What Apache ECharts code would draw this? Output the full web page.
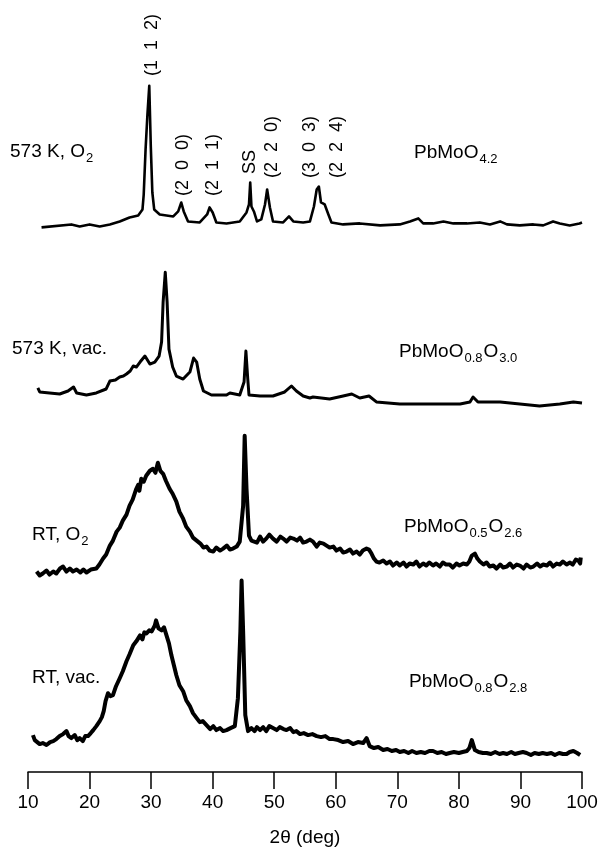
<!DOCTYPE html>
<html>
<head>
<meta charset="utf-8">
<script src="https://cdn.jsdelivr.net/npm/echarts@6/dist/echarts.min.js"></script>
<style>
  html, body { margin: 0; padding: 0; background: #fff; }
  #chart { width: 602px; height: 852px; }
</style>
</head>
<body>
<div id="chart"></div>
<script>
// XRD patterns, [2theta, intensity] (arbitrary units)
const o2_573K = [
  [12.2,4],[17.05,7],[18.4,5],[20.0,7],[21.65,5],[23.3,7],[24.9,10],[26.5,14],[27.9,16],[28.6,22],
  [28.8,37],[29.1,82],[29.4,117],[29.7,146],[29.95,85],[30.2,39],[30.5,22],[31.4,17],[32.5,16],[33.6,15],
  [34.4,20],[34.9,29],[35.3,20],[36.0,10],[37.9,9],[39.1,17],[39.5,24],[40.0,19],[40.6,9],[42.25,8],
  [44.4,10],[45.5,19],[45.9,27],[46.1,49],[46.3,25],[46.7,20],[47.2,10],[47.9,12],[48.5,27],[48.85,42],
  [49.3,24],[49.8,10],[51.45,9],[52.4,15],[53.1,10],[54.7,9],[55.8,10],[56.45,25],[56.9,42],[57.25,45],
  [57.6,29],[58.2,27],[58.8,17],[59.3,9],[61.2,7],[63.9,8],[67.2,6],[70.4,7],[72.05,10],[73.4,13],
  [74.2,8],[75.8,8],[77.5,10],[79.1,8],[81.3,8],[83.4,9],[85.05,7],[86.7,10],[87.8,7],[89.9,6],
  [92.1,7],[93.7,6],[95.3,10],[96.4,8],[98.0,6],[99.6,8],[100,9]
];
const vac_573K = [
  [11.6,21],[11.9,17],[13.5,16],[15.15,15],[16.5,18],[17.4,22],[17.9,16],[19.5,14],[21.1,16],[22.7,20],
  [23.3,28],[24.2,29],[24.9,32],[25.5,33],[26.0,35],[26.6,38],[27.1,43],[27.6,42],[28.2,47],[28.6,50],[29.0,53],[29.8,45],[30.6,47],[31.3,53],[31.7,67],
  [31.95,107],[32.3,137],[32.6,107],[32.9,60],[33.5,42],[34.1,33],[35.2,30],[36.3,37],[36.9,51],[37.4,47],
  [37.9,30],[38.5,18],[39.8,14],[42.25,14],[42.8,16],[44.4,14],[45.1,27],[45.4,58],[45.7,30],[45.9,14],
  [47.7,13],[49.8,13],[51.7,17],[52.8,23],[53.6,18],[54.7,13],[55.8,11],[56.3,12],[59.0,10],[61.2,13],
  [62.6,15],[63.9,11],[65.4,13],[66.6,7],[70.4,5],[75.8,5],[80.2,5],[81.8,7],[82.3,12],[83.1,7],
  [86.7,7],[89.9,5],[93.1,3],[96.4,5],[98.6,7],[100,6]
];
const o2_RT = [
  [11.4,5],[11.9,1],[12.4,3],[13.0,6],[13.5,2],[14.1,5],[14.6,3],[15.2,8],[15.7,10],[16.25,5],
  [16.8,8],[17.3,5],[17.9,7],[18.5,4],[19.0,7],[19.5,4],[20.2,7],[21.1,8],[21.6,12],[22.2,18],
  [22.7,22],[23.3,31],[23.8,36],[24.4,45],[24.9,49],[25.4,56],[26.0,62],[26.5,71],[27.0,77],[27.6,88],
  [27.9,92],[28.1,86],[28.4,98],[28.8,95],[29.2,101],[29.5,99],[29.8,106],[30.3,108],[30.7,104],[31.1,114],
  [31.5,106],[31.95,103],[32.4,96],[33.0,88],[33.5,83],[34.1,75],[34.6,65],[35.2,58],[35.7,50],[36.3,45],
  [36.8,39],[37.4,36],[38.0,33],[38.5,29],[39.0,30],[39.5,26],[40.1,25],[40.6,29],[41.2,26],[41.7,28],
  [42.3,31],[42.8,27],[43.3,28],[43.9,30],[44.4,35],[44.95,71],[45.2,141],[45.5,88],[45.9,41],[46.3,36],
  [46.6,38],[47.2,34],[47.7,40],[48.2,35],[48.7,38],[49.2,42],[49.8,38],[50.4,35],[51.0,40],[51.45,38],
  [52.0,35],[52.6,39],[53.1,38],[53.7,36],[54.2,39],[54.7,34],[55.25,35],[55.8,37],[56.3,35],[56.9,30],
  [57.4,34],[58.0,33],[58.5,31],[59.0,29],[59.6,30],[60.1,26],[60.7,28],[61.2,24],[61.75,25],[62.3,27],
  [62.8,23],[63.4,25],[63.9,22],[64.4,26],[65.0,28],[65.4,27],[65.8,23],[66.2,18],[66.6,15],[67.1,14],
  [67.7,16],[68.25,13],[68.8,15],[69.3,11],[69.9,14],[70.4,11],[71.0,14],[71.5,10],[72.0,13],[72.6,12],
  [73.1,15],[73.6,10],[74.2,13],[74.7,11],[75.2,14],[75.8,11],[76.3,13],[76.9,10],[77.4,14],[77.9,12],
  [78.5,12],[79.0,9],[79.6,13],[80.1,11],[80.7,13],[81.3,12],[81.7,15],[82.1,21],[82.6,23],[83.0,18],
  [83.4,15],[84.0,12],[84.5,14],[85.0,10],[85.6,11],[86.1,8],[86.7,12],[87.2,9],[87.8,10],[88.3,13],
  [88.8,9],[89.4,12],[89.9,11],[90.5,8],[91.0,12],[91.6,9],[92.1,10],[92.7,13],[93.2,10],[93.7,12],
  [94.3,11],[94.8,14],[95.3,10],[95.9,13],[96.4,12],[96.9,15],[97.5,12],[98.05,14],[98.5,12],[99.0,17],
  [99.4,16],[99.7,13],[99.8,19]
];
const vac_RT = [
  [10.8,23],[11.1,18],[11.4,17],[11.9,14],[12.4,15],[13.0,13],[13.6,16],[14.1,17],[14.6,19],[15.15,22],
  [15.7,24],[16.25,27],[16.6,22],[17.05,20],[17.6,23],[18.0,18],[18.4,20],[18.9,17],[19.3,22],[19.75,22],
  [20.2,25],[20.6,28],[21.1,32],[21.65,37],[22.0,41],[22.3,47],[22.6,57],[23.0,65],[23.4,62],[23.8,63],
  [24.3,72],[24.9,80],[25.4,87],[26.0,97],[26.5,104],[27.1,113],[27.6,117],[28.2,123],[28.6,119],[28.9,126],
  [29.25,125],[29.7,128],[30.1,127],[30.6,133],[30.8,138],[31.2,130],[31.7,128],[32.1,131],[32.5,123],[32.9,115],
  [33.3,103],[33.7,93],[34.1,83],[34.6,73],[35.2,67],[35.7,58],[36.3,52],[36.8,45],[37.4,40],[37.9,36],
  [38.4,37],[39.0,33],[39.6,29],[40.1,32],[40.6,28],[41.2,30],[41.7,27],[42.25,28],[42.9,30],[43.6,32],
  [44.1,60],[44.5,127],[44.7,178],[44.95,127],[45.3,43],[45.75,27],[46.3,30],[46.8,27],[47.2,31],[47.7,28],
  [48.2,31],[48.7,27],[49.2,32],[49.8,30],[50.4,28],[50.9,31],[51.5,29],[52.0,28],[52.6,30],[53.1,26],
  [53.6,27],[54.2,24],[54.8,25],[55.5,23],[56.2,24],[56.9,22],[57.6,21],[58.3,22],[59.0,19],[59.6,19],
  [60.4,18],[61.2,16],[62.0,17],[62.8,14],[63.6,16],[64.45,15],[65.0,20],[65.5,12],[66.2,10],[66.9,11],
  [67.7,8],[68.4,9],[69.1,7],[69.8,8],[70.4,6],[71.1,7],[71.8,5],[72.4,7],[73.1,5],[73.8,6],
  [74.5,5],[75.2,7],[75.8,7],[76.5,5],[77.2,6],[77.9,4],[78.5,5],[79.2,6],[80.0,5],[80.6,6],
  [81.3,7],[81.7,10],[82.1,18],[82.6,8],[83.2,6],[83.9,5],[84.5,5],[85.2,4],[85.9,6],[86.6,4],
  [87.2,5],[87.8,4],[88.5,6],[89.1,4],[89.7,5],[90.4,6],[91.0,5],[91.7,3],[92.3,5],[93.0,4],
  [93.6,5],[94.3,4],[95.0,5],[95.6,3],[96.3,5],[96.9,4],[97.5,4],[98.0,6],[98.6,7],[99.2,5],[99.7,3]
];

// vertical stacking offsets of the four patterns (same units as intensity)
const offsets = [542, 364, 196, 14];
const leftLabels = ['{a|573 K, O}{s|2}', '{a|573 K, vac.}', '{a|RT, O}{s|2}', '{a|RT, vac.}'];
const rightLabels = ['{a|PbMoO}{s|4.2}', '{a|PbMoO}{s|0.8}{a|O}{s|3.0}', '{a|PbMoO}{s|0.5}{a|O}{s|2.6}', '{a|PbMoO}{s|0.8}{a|O}{s|2.8}'];
const peakNames = ['(1  1  2)', '(2  0  0)', '(2  1  1)', 'SS', '(2  2  0)', '(3  0  3)', '(2  2  4)'];

const FONT = '"Liberation Sans", Arial, sans-serif';
const rich = {
  a: { fontSize: 19, fontFamily: FONT, color: '#000', lineHeight: 25, verticalAlign: 'middle' },
  s: { fontSize: 13, fontFamily: FONT, color: '#000', verticalAlign: 'bottom', padding: [0, 1, 0, 1] }
};

const traces = [o2_573K, vac_573K, o2_RT, vac_RT];
const widths = [2.6, 3, 4, 4];

const chart = echarts.init(document.getElementById('chart'));

const leftPos = [[10, 152], [12, 349], [32, 535], [32, 678]];
const rightPos = [[414, 153], [399, 352], [404, 527], [409, 682]];
const peakPos = [[152, 45], [183, 165], [213, 165], [250, 162], [272, 147], [310, 147], [337, 147]];

const graphics = [];
leftLabels.forEach((t, i) => {
  graphics.push({ type: 'text', x: leftPos[i][0], y: leftPos[i][1],
    style: { text: t, rich: rich, verticalAlign: 'middle', align: 'left' } });
});
rightLabels.forEach((t, i) => {
  graphics.push({ type: 'text', x: rightPos[i][0], y: rightPos[i][1],
    style: { text: t, rich: rich, verticalAlign: 'middle', align: 'left' } });
});
peakNames.forEach((t, i) => {
  graphics.push({ type: 'text', x: peakPos[i][0], y: peakPos[i][1], rotation: Math.PI / 2,
    style: { text: t, fontSize: 18, fontFamily: FONT, fill: '#000', align: 'center', verticalAlign: 'middle' } });
});

const option = {
  animation: false,
  backgroundColor: '#fff',
  grid: { left: 28, right: 20, top: 0, bottom: 78 },
  xAxis: {
    type: 'value', min: 10, max: 100, interval: 10,
    name: '2\u03b8 (deg)', nameLocation: 'middle', nameGap: 56,
    nameTextStyle: { fontSize: 19, fontFamily: FONT, color: '#000' },
    axisLine: { show: true, lineStyle: { color: '#000', width: 1.5 } },
    axisTick: { show: true, inside: false, length: 17, lineStyle: { color: '#000', width: 1.5 } },
    axisLabel: { fontSize: 19, fontFamily: FONT, color: '#000', margin: 21 },
    splitLine: { show: false }
  },
  yAxis: { type: 'value', min: 0, max: 774, show: false },
  series: traces.map((tr, i) => ({
    type: 'line',
    data: tr.map(p => [p[0], p[1] + offsets[i]]),
    showSymbol: false,
    lineStyle: { color: '#000', width: widths[i], join: 'round' }
  })),
  graphic: graphics
};

chart.setOption(option);
</script>
</body>
</html>
